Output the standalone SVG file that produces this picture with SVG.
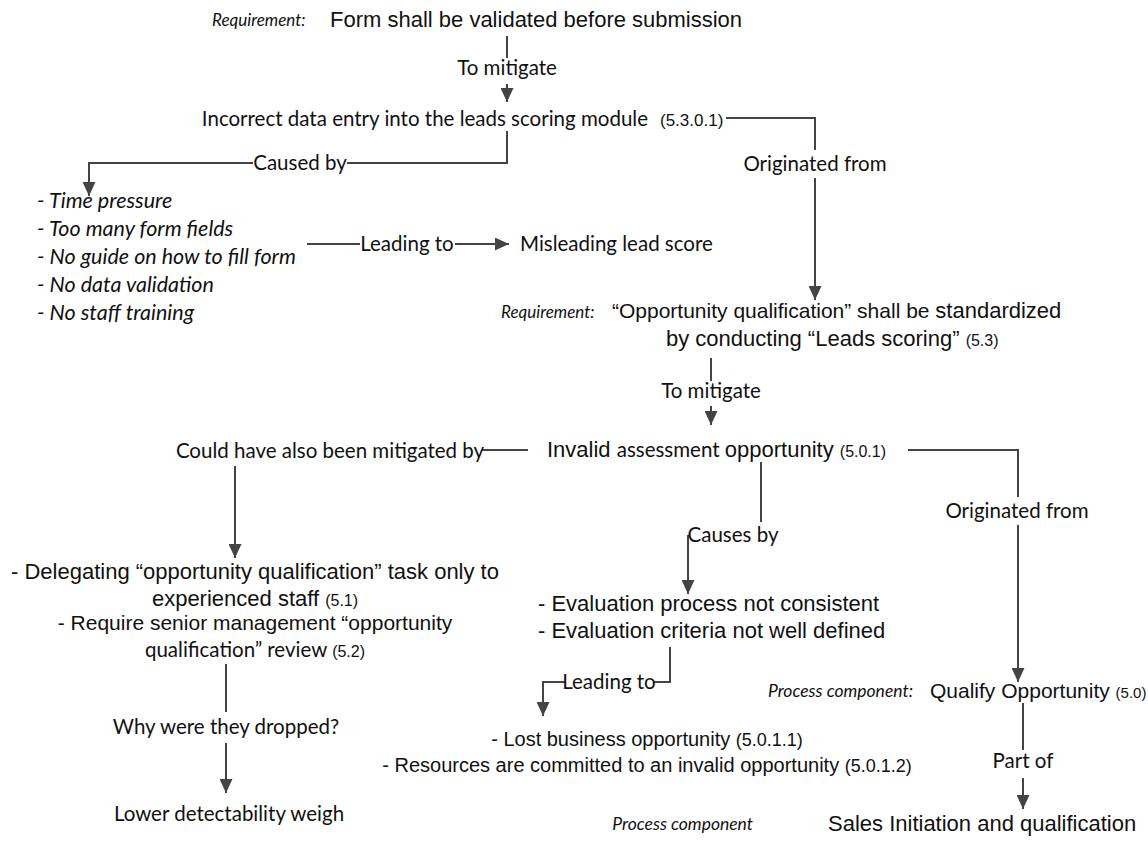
<svg xmlns="http://www.w3.org/2000/svg" width="1148" height="843" viewBox="0 0 1148 843">
  <style>
    .ar { font-family: "Liberation Sans", Arial, sans-serif; fill: #111; }
    .ca { font-family: Lato, "Open Sans", sans-serif; fill: #111; }
    .lbl { font-family: Lato, "Open Sans", sans-serif; fill: #111; font-size: 20.5px; text-anchor: middle; }
    .it { font-style: italic; }
    .ln { stroke: #444; stroke-width: 2; fill: none; }
  </style>
  <defs>
    <marker id="arrow" markerUnits="userSpaceOnUse" markerWidth="15" markerHeight="13" refX="14" refY="6.5" orient="auto">
      <path d="M0,0 L14,6.5 L0,13 z" fill="#444"/>
    </marker>
  </defs>
  <rect width="1148" height="843" fill="#fff"/>

  <!-- connectors -->
  <g id="connectors">
    <!-- form requirement -> incorrect data entry -->
    <path class="ln" d="M507,36 V58"/>
    <path class="ln" d="M507,84 V102" marker-end="url(#arrow)"/>
    <!-- incorrect data entry -> causes list -->
    <path class="ln" d="M507,131 V163 H347"/>
    <path class="ln" d="M253,163 H89 V196" marker-end="url(#arrow)"/>
    <!-- causes list -> misleading lead score -->
    <path class="ln" d="M307,244 H360"/>
    <path class="ln" d="M455,244 H509" marker-end="url(#arrow)"/>
    <!-- incorrect data entry -> opportunity requirement -->
    <path class="ln" d="M726,118 H815 V150"/>
    <path class="ln" d="M815,178 V300" marker-end="url(#arrow)"/>
    <!-- opportunity requirement -> invalid assessment -->
    <path class="ln" d="M711,358 V381"/>
    <path class="ln" d="M711,406 V425" marker-end="url(#arrow)"/>
    <!-- invalid assessment -> alternative mitigations -->
    <path class="ln" d="M482,450 H528"/>
    <path class="ln" d="M235,466 V558" marker-end="url(#arrow)"/>
    <!-- invalid assessment -> evaluation causes -->
    <path class="ln" d="M761,462 V522"/>
    <path class="ln" d="M688,535 V594" marker-end="url(#arrow)"/>
    <!-- invalid assessment -> qualify opportunity -->
    <path class="ln" d="M908,450 H1018 V497"/>
    <path class="ln" d="M1018,525 V682" marker-end="url(#arrow)"/>
    <!-- evaluation causes -> consequences -->
    <path class="ln" d="M670,647 V682 H654"/>
    <path class="ln" d="M565,682 H543 V716" marker-end="url(#arrow)"/>
    <!-- alternative mitigations -> lower detectability -->
    <path class="ln" d="M226,664 V712"/>
    <path class="ln" d="M226,743 V793" marker-end="url(#arrow)"/>
    <!-- qualify opportunity -> sales initiation -->
    <path class="ln" d="M1023,703 V750"/>
    <path class="ln" d="M1023,778 V809" marker-end="url(#arrow)"/>

    <!-- connector labels -->
    <text class="lbl" x="507" y="75">To mitigate</text>
    <text class="lbl" x="300" y="170">Caused by</text>
    <text class="lbl" x="407" y="251">Leading to</text>
    <text class="lbl" x="815" y="171">Originated from</text>
    <text class="lbl" x="711" y="398">To mitigate</text>
    <text class="lbl" x="330" y="458">Could have also been mitigated by</text>
    <text class="lbl" x="733" y="542">Causes by</text>
    <text class="lbl" x="1017" y="518">Originated from</text>
    <text class="lbl" x="609" y="689" font-size="20">Leading to</text>
    <text class="lbl" x="226" y="734">Why were they dropped?</text>
    <text class="lbl" x="1023" y="768">Part of</text>
  </g>

  <!-- nodes -->
  <g id="req-form">
    <text class="ca it" x="212" y="26" font-size="17">Requirement:</text>
    <text class="ar" x="330" y="27" font-size="22">Form shall be validated before submission</text>
  </g>

  <g id="incorrect-entry">
    <text class="ca" x="648" y="126" font-size="20.5" text-anchor="end">Incorrect data entry into the leads scoring module</text>
    <text class="ar" x="660" y="126" font-size="17">(5.3.0.1)</text>
  </g>

  <g id="causes-list">
    <text class="ca it" x="37" y="208" font-size="21.5">- Time pressure</text>
    <text class="ca it" x="37" y="236" font-size="21.5">- Too many form fields</text>
    <text class="ca it" x="37" y="264" font-size="21.5">- No guide on how to fill form</text>
    <text class="ca it" x="37" y="292" font-size="21.5">- No data validation</text>
    <text class="ca it" x="37" y="320" font-size="21.5">- No staff training</text>
  </g>

  <g id="misleading-score">
    <text class="ca" x="520" y="251" font-size="20.5">Misleading lead score</text>
  </g>

  <g id="req-opportunity">
    <text class="ca it" x="501" y="318" font-size="17">Requirement:</text>
    <text x="612" y="318"><tspan class="ar" font-size="21">“Opportunity qualification” shall be </tspan><tspan class="ar" font-size="22">standardized</tspan></text>
    <text x="666" y="346"><tspan class="ar" font-size="22">by conducting “Leads scoring”  </tspan><tspan class="ar" font-size="16">(5.3)</tspan></text>
  </g>

  <g id="invalid-assessment">
    <text x="547" y="457"><tspan class="ar" font-size="22">Invalid </tspan><tspan class="ca" font-size="20.5">assessment </tspan><tspan class="ar" font-size="22">opportunity </tspan><tspan class="ar" font-size="16">(5.0.1)</tspan></text>
  </g>

  <g id="mitigations">
    <text class="ar" x="255" y="579" font-size="22" text-anchor="middle">- Delegating “opportunity qualification” task only to</text>
    <text x="255" y="606" text-anchor="middle"><tspan class="ar" font-size="22">experienced staff </tspan><tspan class="ar" font-size="16">(5.1)</tspan></text>
    <text class="ar" x="255" y="630" font-size="21" text-anchor="middle">- Require senior management “opportunity</text>
    <text x="255" y="657" text-anchor="middle"><tspan class="ca" font-size="20.5">qualification” review  </tspan><tspan class="ar" font-size="16">(5.2)</tspan></text>
  </g>

  <g id="lower-detectability">
    <text class="ca" x="229" y="821" font-size="20.5" text-anchor="middle">Lower detectability weigh</text>
  </g>

  <g id="evaluation-causes">
    <text class="ar" x="538" y="611" font-size="22">- Evaluation process not consistent</text>
    <text class="ar" x="538" y="638" font-size="22">- Evaluation criteria not well defined</text>
  </g>

  <g id="consequences">
    <text x="647" y="746" text-anchor="middle"><tspan class="ar" font-size="20">- Lost business opportunity </tspan><tspan class="ar" font-size="18">(5.0.1.1)</tspan></text>
    <text x="647" y="772" text-anchor="middle"><tspan class="ar" font-size="20">- Resources are committed to an invalid opportunity </tspan><tspan class="ar" font-size="18">(5.0.1.2)</tspan></text>
  </g>

  <g id="qualify-opportunity">
    <text class="ca it" x="913" y="697" font-size="17.5" text-anchor="end">Process component:</text>
    <text x="930" y="698"><tspan class="ar" font-size="21">Qualify Opportunity </tspan><tspan class="ar" font-size="15">(5.0)</tspan></text>
  </g>

  <g id="sales-initiation">
    <text class="ca it" x="753" y="830" font-size="17.5" text-anchor="end">Process component</text>
    <text class="ar" x="828" y="831" font-size="22">Sales Initiation and qualification</text>
  </g>
</svg>
